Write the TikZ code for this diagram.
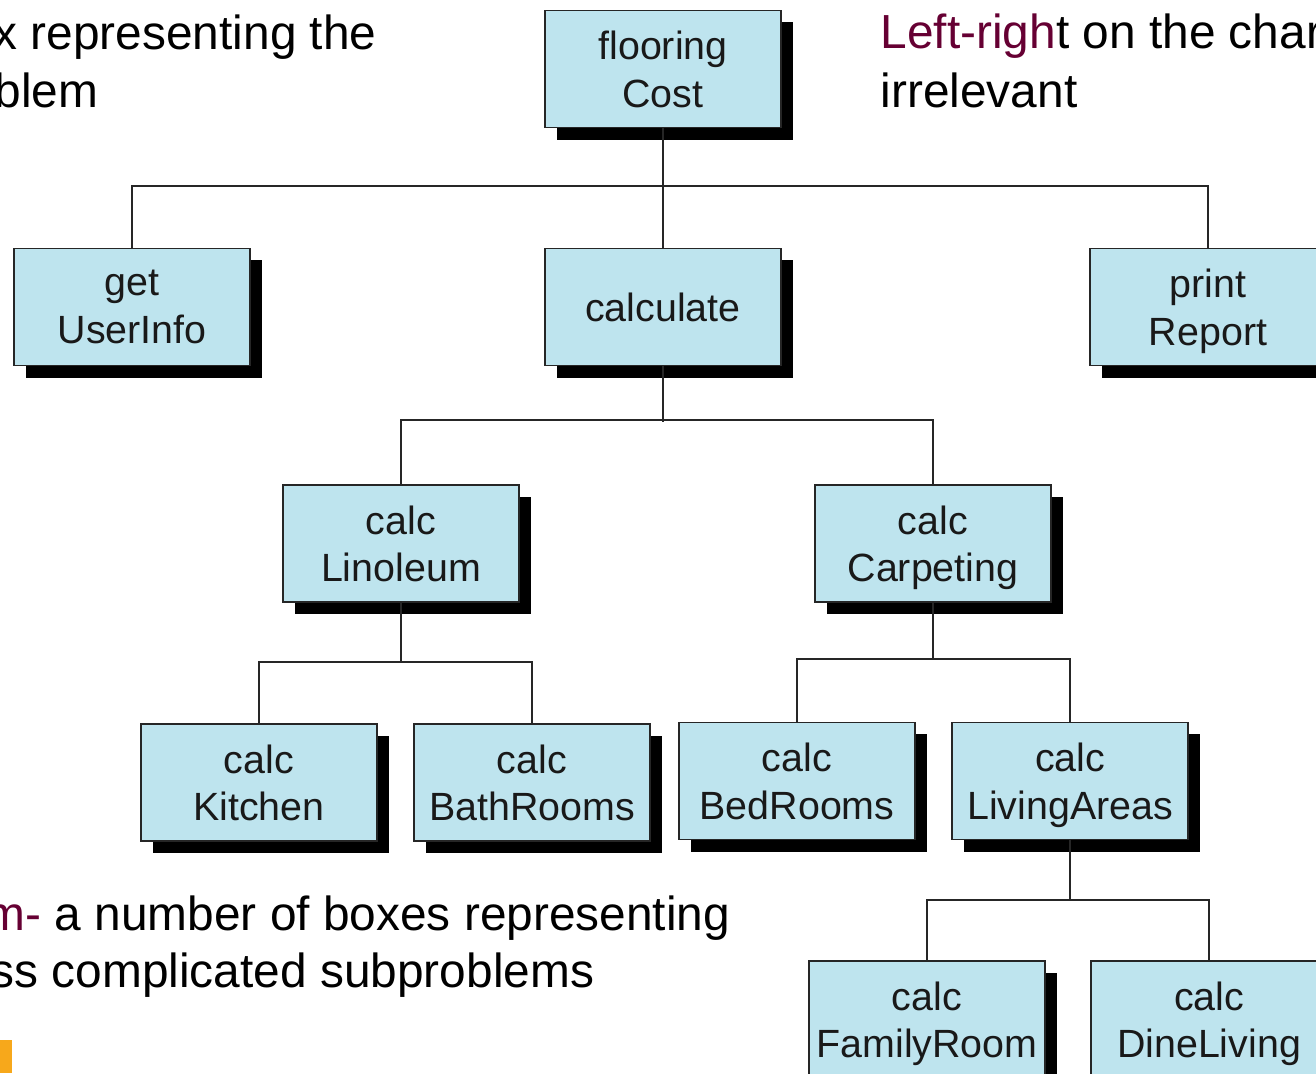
\documentclass[tikz,border=0pt]{standalone}
\usepackage{fontspec}
\setmainfont{Liberation Sans}
\usetikzlibrary{shadows}
\definecolor{boxfill}{RGB}{190,228,238}
\definecolor{keyword}{RGB}{102,0,51}
\definecolor{accent}{RGB}{247,168,27}
\begin{document}
\begin{tikzpicture}[x=0.01cm,y=-0.01cm,
  module/.style={draw=black!85, line width=0.45pt, fill=boxfill,
    minimum width=2.36cm, minimum height=1.17cm, inner sep=0pt,
    align=center, text=black!90, text depth=0pt,
    font=\fontsize{11.2}{13.5}\selectfont,
    drop shadow={shadow xshift=0.12cm, shadow yshift=-0.12cm, fill=black, opacity=1}},
  link/.style={draw=black!85, line width=0.55pt},
  note/.style={anchor=base west, inner sep=0pt, font=\fontsize{13.6}{16}\selectfont}]
\useasboundingbox (0,0) rectangle (1316,1073);
\clip (0,0) rectangle (1316,1073);

% surrounding slide text
\node[note] (tl1) at (-7,50) {x representing the};
\node[note] (tl2) at (-6,108) {blem};
\node[note] (tr1) at (880,49) {\textcolor{keyword}{Left-righ}t on the chart};
\node[note] (tr2) at (880,107) {irrelevant};
\node[note] (bl1) at (-15,930) {\textcolor{keyword}{m-} a number of boxes representing};
\node[note] (bl2) at (-10,987) {ss complicated subproblems};
\fill[accent] (0,1040) rectangle (12,1073);

% modules of the structure chart
\node[module] (floor) at (663,69)     {flooring\\Cost};
\node[module] (get)   at (132,307)    {get\\UserInfo};
\node[module] (calc)  at (663,307)    {calculate};
\node[module] (print) at (1208,307)   {print\\Report};
\node[module] (lino)  at (401,543.5)  {calc\\Linoleum};
\node[module] (carp)  at (933,543.5)  {calc\\Carpeting};
\node[module] (kit)   at (259,782.5)  {calc\\Kitchen};
\node[module] (bath)  at (532,782.5)  {calc\\BathRooms};
\node[module] (bed)   at (797,781)    {calc\\BedRooms};
\node[module] (liv)   at (1070,781)   {calc\\LivingAreas};
\node[module] (fam)   at (927,1019.5) {calc\\FamilyRoom};
\node[module] (dine)  at (1209,1019.5){calc\\DineLiving};

% calling hierarchy
\draw[link] (floor.south) -- (calc.north);
\draw[link] (get.north) -- ++(0,-62) -| (print.north);

\draw[link] (calc.south) -- ++(0,56);
\draw[link] (lino.north) -- ++(0,-64) -| (carp.north);

\draw[link] (lino.south) -- ++(0,60);
\draw[link] (kit.north) -- ++(0,-61) -| (bath.north);

\draw[link] (carp.south) -- ++(0,56);
\draw[link] (bed.north) -- ++(0,-63) -| (liv.north);

\draw[link] (liv.south) -- ++(0,61);
\draw[link] (fam.north) -- ++(0,-60) -| (dine.north);
\end{tikzpicture}
\end{document}
